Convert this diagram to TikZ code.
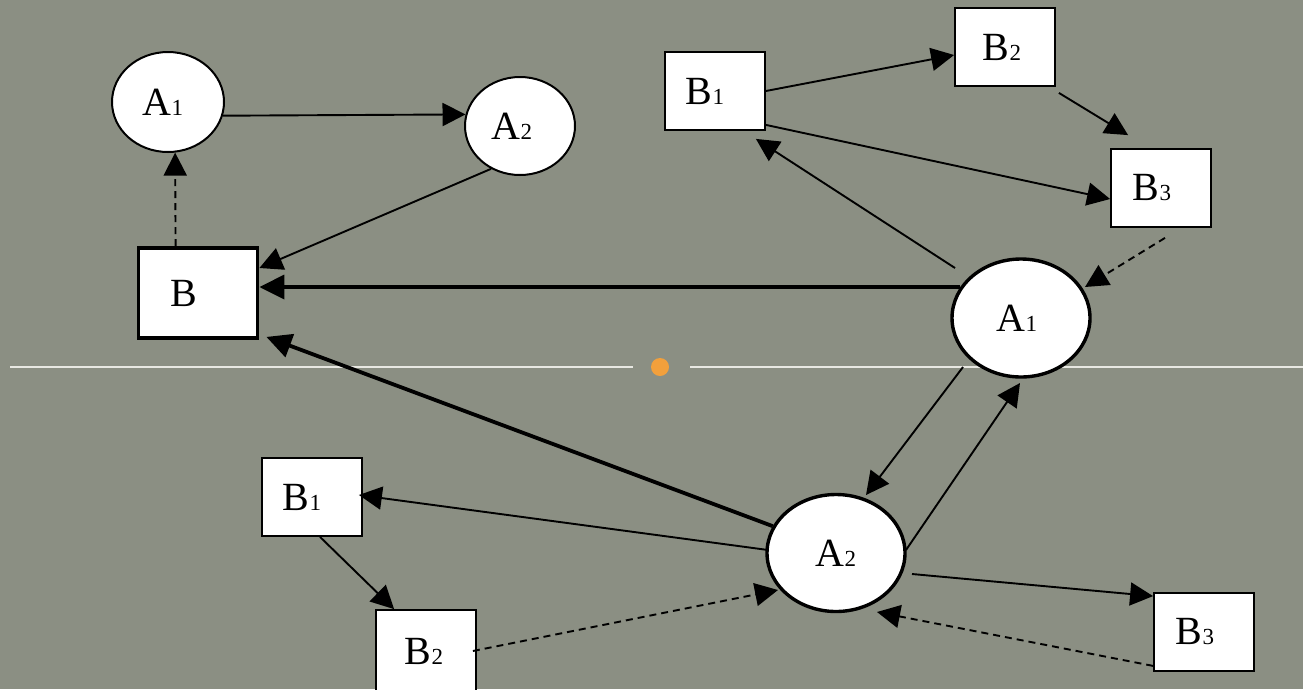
\documentclass[tikz,border=0pt]{standalone}
\usepackage{fontspec}
\setmainfont{Liberation Serif}
\usetikzlibrary{arrows.meta,calc,shapes.geometric}
\definecolor{bg}{RGB}{139,143,131}
\definecolor{rule}{RGB}{232,232,226}
\definecolor{dot}{RGB}{242,160,60}
\newcommand\Lb[2]{#1{\fontsize{23}{23}\selectfont #2}}
\begin{document}
\begin{tikzpicture}[x=1pt,y=-1pt,
  txt/.style={font=\fontsize{40}{41}\selectfont, inner sep=0pt},
  sbox/.style={draw=black, fill=white, line width=1.8pt, minimum width=100pt, minimum height=78pt, inner sep=0pt},
  ell/.style={ellipse, draw=black, fill=white, inner sep=0pt},
  thinarr/.style={line width=1.9pt, -{Triangle[length=23pt,width=23pt]}},
  thickarr/.style={line width=3.8pt, -{Triangle[length=25pt,width=24pt]}},
  dasharr/.style={thinarr, dash pattern=on 7pt off 5pt}]
\useasboundingbox (0,0) rectangle (1303,689);
\fill[bg] (0,0) rectangle (1303,689);
\clip (0,0) rectangle (1303,689);
% dividing rule and dot
\draw[rule, line width=2pt] (10,367) -- (633,367);
\draw[rule, line width=2pt] (690,367) -- (1303,367);
\fill[dot] (660,367) circle (9);
% top-left group
\node[ell, line width=2pt, minimum width=112pt, minimum height=100pt, label={[txt,xshift=-5pt]center:\Lb{A}{1}}] (la1) at (168,102) {};
\node[ell, line width=2pt, minimum width=110pt, minimum height=98pt, label={[txt,xshift=-8pt]center:\Lb{A}{2}}] (la2) at (520,126) {};
\node[sbox, line width=3.8pt, minimum width=119pt, minimum height=90pt, label={[txt,xshift=-14pt]center:B}] (b) at (198,293) {};
% top-right group
\node[sbox, label={[txt,xshift=-10pt]center:\Lb{B}{1}}] (b1t) at (715,91) {};
\node[sbox, label={[txt,xshift=-3pt]center:\Lb{B}{2}}] (b2t) at (1005,47) {};
\node[sbox, label={[txt,xshift=-9pt]center:\Lb{B}{3}}] (b3t) at (1161,188) {};
\node[ell, line width=3.4pt, minimum width=138pt, minimum height=118pt, label={[txt,xshift=-4pt]center:\Lb{A}{1}}] (ra1) at (1021,318) {};
% bottom group
\node[sbox, label={[txt,xshift=-10pt]center:\Lb{B}{1}}] (b1b) at (312,497) {};
\node[sbox, minimum height=82pt, label={[txt,xshift=-2pt]center:\Lb{B}{2}}] (b2b) at (426,651) {};
\node[ell, line width=3.4pt, minimum width=138pt, minimum height=117pt, label={[txt]center:\Lb{A}{2}}] (a2b) at (836,553) {};
\node[sbox, label={[txt,xshift=-9pt]center:\Lb{B}{3}}] (b3b) at (1204,632) {};
% connectors top-left
\draw[thinarr] (la1.-14) -- (la2.168);
\draw[dasharr] ($(b.north west)+(39,0)$) -- (la1.-82);
\draw[thinarr] (la2.236) -- ($(b.east)+(0,-25)$);
\draw[thickarr] (ra1.153) -- (ra1.153 -| b.east);
\draw[thickarr] (a2b.157) -- ($(b.south east)+(7,-3)$);
% connectors top-right
\draw[thinarr] (b1t.east) -- ($(b2t.west)+(0,8)$);
\draw[thinarr] ($(b2t.south east)+(3,6)$) -- ($(b3t.north west)+(18,-13)$);
\draw[thinarr] ($(b1t.south east)+(0,-6)$) -- ($(b3t.west)+(0,11)$);
\draw[thinarr] ($(ra1.center)+(-66,-50)$) -- ($(b1t.south east)+(-10,8)$);
\draw[dasharr] ($(b3t.south)+(4,10)$) -- ($(ra1.center)+(64,-31)$);
\draw[thinarr] ($(ra1.center)+(-58,49)$) -- ($(a2b.center)+(30,-58)$);
\draw[thinarr] ($(a2b.center)+(70,-3)$) -- ($(ra1.center)+(-1,65)$);
% connectors bottom
\draw[thinarr] ($(a2b.center)+(-68,-3)$) -- ($(b1b.east)+(-4,-2)$);
\draw[thinarr] ($(b1b.south)+(8,0)$) -- ($(b2b.north west)+(19,0)$);
\draw[dasharr] ($(b2b.east)+(-4,0)$) -- ($(a2b.center)+(-58,37)$);
\draw[thinarr] ($(a2b.center)+(76,21)$) -- ($(b3b.north west)+(0,4)$);
\draw[dasharr] ($(b3b.south west)+(0,-6)$) -- ($(a2b.center)+(41,59)$);
\end{tikzpicture}
\end{document}
